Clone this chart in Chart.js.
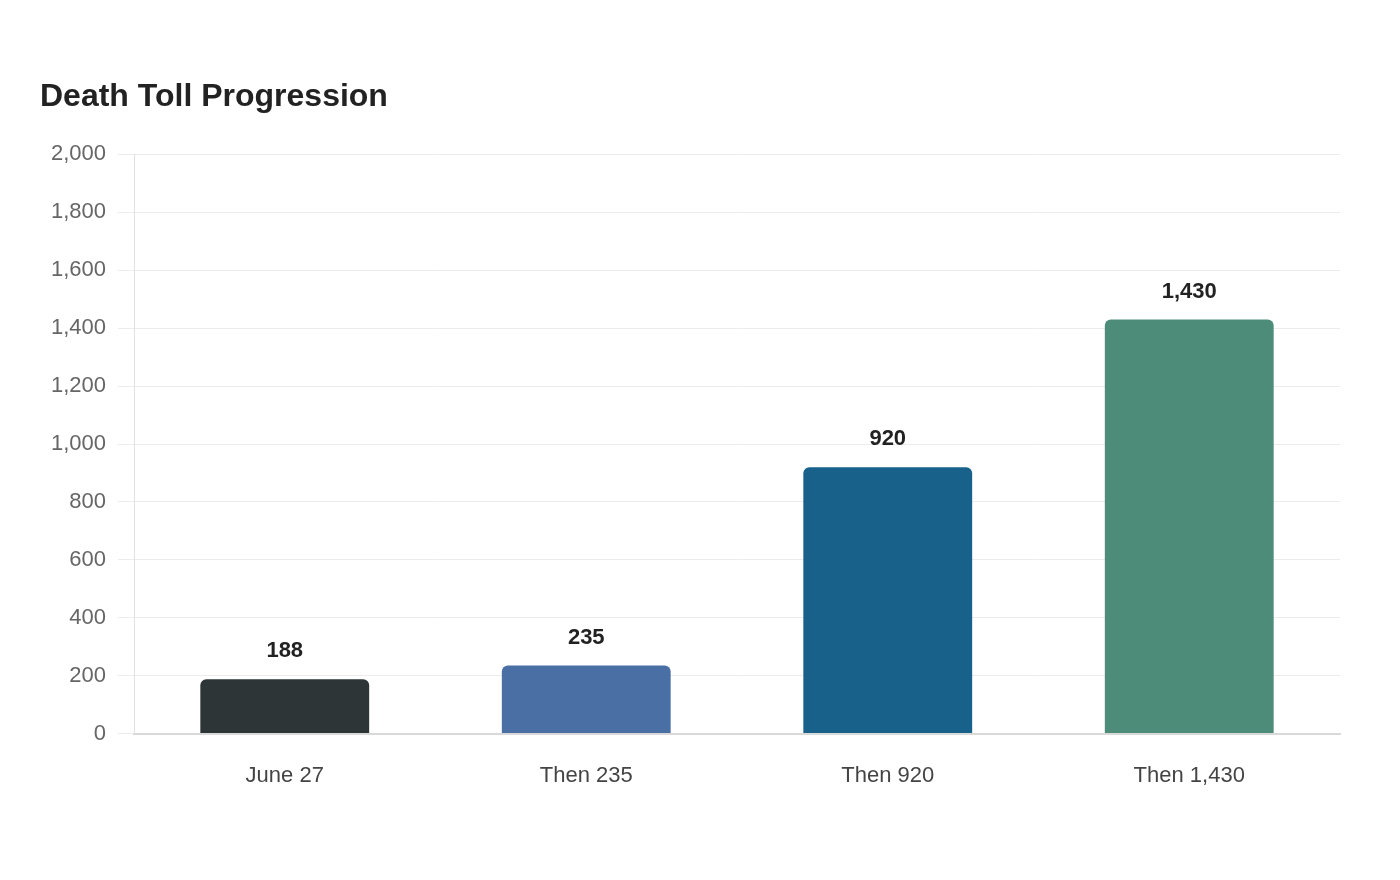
<!DOCTYPE html>
<html>
<head>
<meta charset="utf-8">
<title>Death Toll Progression</title>
<script src="https://cdn.jsdelivr.net/npm/chart.js@4.4.1/dist/chart.umd.min.js"></script>
<style>
  html, body { margin: 0; padding: 0; background: #fff; }
  #wrap { width: 1400px; height: 880px; }
</style>
</head>
<body>
<div id="wrap"><canvas id="tollChart"></canvas></div>
<script>
const categories = ["June 27", "Then 235", "Then 920", "Then 1,430"];
const deaths = [188, 235, 920, 1430];
const barColors = ["#2e3537", "#4a6fa5", "#17618a", "#4e8c7a"];
const yTicks = [0, 200, 400, 600, 800, 1000, 1200, 1400, 1600, 1800, 2000];

const fontFamily = '"Liberation Sans", Arial, sans-serif';

// draws the value above each bar
const valueLabels = {
  id: "valueLabels",
  afterDatasetsDraw(chart) {
    const ctx = chart.ctx;
    const meta = chart.getDatasetMeta(0);
    ctx.save();
    ctx.font = "bold 22px " + fontFamily;
    ctx.fillStyle = "#222";
    ctx.textAlign = "center";
    ctx.textBaseline = "middle";
    meta.data.forEach((bar, i) => {
      ctx.fillText(deaths[i].toLocaleString("en-US"), bar.x, bar.y - 28);
    });
    ctx.restore();
  }
};

new Chart(document.getElementById("tollChart"), {
  type: "bar",
  data: {
    labels: categories,
    datasets: [{
      data: deaths,
      backgroundColor: barColors,
      borderRadius: { topLeft: 6, topRight: 6 },
      borderSkipped: "bottom",
      barPercentage: 0.7,
      categoryPercentage: 0.8
    }]
  },
  options: {
    responsive: true,
    maintainAspectRatio: false,
    animation: false,
    layout: { padding: { left: 40, right: 60, top: 78, bottom: 62 } },
    plugins: {
      legend: { display: false },
      tooltip: { enabled: false },
      title: {
        display: true,
        text: "Death Toll Progression",
        align: "start",
        color: "#222",
        font: { family: fontFamily, size: 32, weight: "bold" },
        padding: { top: 0, bottom: 38 }
      }
    },
    scales: {
      x: {
        grid: { display: false, drawTicks: false },
        border: { display: true, color: "#d9d9d9", width: 2 },
        ticks: {
          color: "#444",
          padding: 29,
          font: { family: fontFamily, size: 22 }
        }
      },
      y: {
        min: 0,
        max: 2000,
        afterBuildTicks(scale) {
          scale.ticks = yTicks.map(v => ({ value: v }));
        },
        afterFit(scale) { scale.width = 94; },
        grid: { color: "#ececec", tickLength: 16 },
        border: { display: true, color: "#e0e0e0" },
        ticks: {
          color: "#666",
          padding: 12,
          font: { family: fontFamily, size: 22 },
          callback: v => v.toLocaleString("en-US")
        }
      }
    }
  },
  plugins: [valueLabels]
});
</script>
</body>
</html>
